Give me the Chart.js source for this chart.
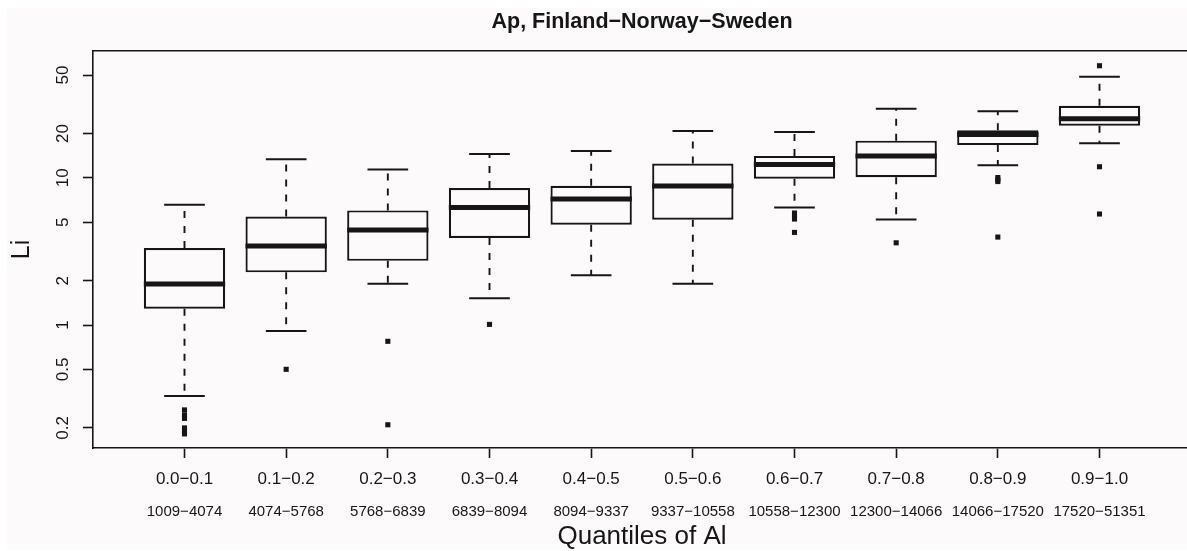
<!DOCTYPE html>
<html>
<head>
<meta charset="utf-8">
<script src="https://cdn.jsdelivr.net/npm/chart.js@4/dist/chart.umd.min.js"></script>
<style>
  html, body { margin: 0; padding: 0; background: #ffffff; overflow: hidden; }
  #frame { position: absolute; left: 0; top: 0; width: 1187px; height: 551px; overflow: hidden; }
  #paper { position: absolute; left: 7px; top: 8px; width: 1180px; height: 541px; background: #fcfafa; }
  #plot { position: absolute; left: 0; top: 0; }
</style>
</head>
<body>
<div id="frame">
  <div id="paper"></div>
  <canvas id="plot" width="1195" height="551"></canvas>
</div>
<script>
// Quantile classes of Al and the Al concentration range of each class
const quantileLabels = ['0.0−0.1', '0.1−0.2', '0.2−0.3', '0.3−0.4', '0.4−0.5',
                        '0.5−0.6', '0.6−0.7', '0.7−0.8', '0.8−0.9', '0.9−1.0'];
const rangeLabels = ['1009−4074', '4074−5768', '5768−6839', '6839−8094', '8094−9337',
                     '9337−10558', '10558−12300', '12300−14066', '14066−17520', '17520−51351'];

// Five-number summaries of Li per class
const lowerWhisker = [0.33, 0.91, 1.91, 1.52, 2.18, 1.91, 6.30, 5.22, 12.2, 17.2];
const lowerQuartile = [1.29, 2.28, 2.73, 3.90, 4.80, 5.19, 9.86, 10.1, 16.7, 22.6];
const medianValues = [1.90, 3.44, 4.42, 6.30, 7.18, 8.80, 12.35, 14.06, 19.7, 25.2];
const upperQuartile = [3.34, 5.47, 6.01, 8.53, 8.84, 12.5, 14.1, 17.9, 21.1, 30.9];
const upperWhisker = [6.57, 13.4, 11.4, 14.5, 15.2, 20.8, 20.5, 29.5, 28.4, 48.6];

// Outlying Li values per class
const outlierValues = [
  [0.265, 0.245, 0.232, 0.20, 0.19, 0.182],
  [0.50],
  [0.775, 0.21],
  [1.01],
  [],
  [],
  [5.77, 5.5, 5.25, 4.26],
  [3.62],
  [10.05, 9.7, 9.44, 3.96],
  [57.8, 11.9, 5.68]
];

// Log axis tick values
const yTickValues = [0.2, 0.5, 1, 2, 5, 10, 20, 50];

const ink = '#161616';
const fontFamily = '"Liberation Sans", Arial, Helvetica, sans-serif';
Chart.defaults.font.family = fontFamily;
Chart.defaults.color = ink;

const X_MIN = 0.1, X_MAX = 10.9;
const BOX_HALF = 0.4, CAP_HALF = 0.2;

// Build the point lists the line and bar controllers need
const boxData = quantileLabels.map((_, i) => ({ x: i + 1, y: [lowerQuartile[i], upperQuartile[i]] }));

const medianData = [];
const whiskerData = [];
const capData = [];
const outlierData = [];
quantileLabels.forEach((_, i) => {
  const c = i + 1;
  medianData.push({ x: c - BOX_HALF, y: medianValues[i] }, { x: c + BOX_HALF, y: medianValues[i] }, { x: c, y: null });
  whiskerData.push({ x: c, y: upperQuartile[i] }, { x: c, y: upperWhisker[i] }, { x: c, y: null });
  whiskerData.push({ x: c, y: lowerQuartile[i] }, { x: c, y: lowerWhisker[i] }, { x: c, y: null });
  capData.push({ x: c - CAP_HALF, y: upperWhisker[i] }, { x: c + CAP_HALF, y: upperWhisker[i] }, { x: c, y: null });
  capData.push({ x: c - CAP_HALF, y: lowerWhisker[i] }, { x: c + CAP_HALF, y: lowerWhisker[i] }, { x: c, y: null });
  outlierValues[i].forEach(v => outlierData.push({ x: c, y: v }));
});

const categoryTicks = scale => { scale.ticks = quantileLabels.map((_, i) => ({ value: i + 1 })); };

new Chart(document.getElementById('plot'), {
  type: 'bar',
  data: {
    datasets: [
      {
        type: 'line', data: medianData, borderColor: ink, borderWidth: 5,
        borderCapStyle: 'butt', pointRadius: 0, spanGaps: false, tension: 0, fill: false,
        xAxisID: 'x', yAxisID: 'y'
      },
      {
        type: 'bar', data: boxData, backgroundColor: 'rgba(252,250,250,1)', borderColor: ink,
        borderWidth: 2.2, borderSkipped: false, barPercentage: 0.8, categoryPercentage: 1,
        xAxisID: 'x', yAxisID: 'y'
      },
      {
        type: 'line', data: capData, borderColor: ink, borderWidth: 2,
        pointRadius: 0, spanGaps: false, tension: 0, fill: false,
        xAxisID: 'x', yAxisID: 'y'
      },
      {
        type: 'line', data: whiskerData, borderColor: ink, borderWidth: 1.9, borderDash: [7, 8],
        pointRadius: 0, spanGaps: false, tension: 0, fill: false,
        xAxisID: 'x', yAxisID: 'y'
      },
      {
        type: 'scatter', data: outlierData, pointStyle: 'rect', pointRadius: 3.6,
        backgroundColor: ink, borderWidth: 0, xAxisID: 'x', yAxisID: 'y'
      }
    ]
  },
  options: {
    responsive: false,
    animation: false,
    events: [],
    layout: { padding: { left: 0, right: 4, top: 0, bottom: 0 } },
    plugins: { legend: { display: false }, tooltip: { enabled: false }, title: { display: false } },
    scales: {
      x: {
        type: 'linear', position: 'bottom', weight: 0,
        min: X_MIN, max: X_MAX, bounds: 'data', offset: false,
        afterBuildTicks: categoryTicks,
        afterFit: s => { s.height = 46; },
        ticks: {
          autoSkip: false, minRotation: 0, maxRotation: 0, padding: 11,
          font: { size: 17 }, color: ink,
          callback: v => quantileLabels[v - 1] ?? ''
        },
        grid: { display: true, drawOnChartArea: false, drawTicks: true, tickLength: 10,
                tickWidth: 1.6, tickColor: ink, offset: false },
        border: { display: true, color: ink, width: 1.6 }
      },
      x2: {
        type: 'linear', position: 'bottom', weight: 1,
        min: X_MIN, max: X_MAX, bounds: 'data', offset: false,
        afterBuildTicks: categoryTicks,
        afterFit: s => { s.height = 57; },
        ticks: {
          autoSkip: false, minRotation: 0, maxRotation: 0, padding: 9,
          font: { size: 15 }, color: ink,
          callback: v => rangeLabels[v - 1] ?? ''
        },
        grid: { display: false, drawTicks: false },
        border: { display: false },
        title: { display: true, text: 'Quantiles of Al', color: ink,
                 font: { size: 26, lineHeight: 1 }, padding: { top: 0, bottom: 1 } }
      },
      xt: {
        type: 'linear', position: 'top',
        min: X_MIN, max: X_MAX, bounds: 'data', offset: false,
        afterFit: s => { s.height = 51; },
        ticks: { display: false },
        grid: { display: false, drawTicks: false },
        border: { display: true, color: ink, width: 1.6 },
        title: { display: true, text: 'Ap, Finland−Norway−Sweden', color: ink,
                 font: { size: 21.5, weight: 'bold', lineHeight: 1.2 }, padding: { top: 9, bottom: 0 } }
      },
      y: {
        type: 'logarithmic', position: 'left',
        min: 0.146, max: 72.8, bounds: 'data',
        afterBuildTicks: s => { s.ticks = yTickValues.map(v => ({ value: v })); },
        afterFit: s => { s.width = 93; },
        ticks: {
          autoSkip: false, minRotation: 90, maxRotation: 90, crossAlign: 'center', padding: 8,
          font: { size: 17 }, color: ink,
          callback: v => String(v)
        },
        grid: { display: true, drawOnChartArea: false, drawTicks: true, tickLength: 10,
                tickWidth: 1.6, tickColor: ink },
        border: { display: true, color: ink, width: 1.6 },
        title: { display: true, text: 'Li', color: ink,
                 font: { size: 25, lineHeight: 1 }, padding: { top: 10, bottom: 0 } }
      }
    }
  }
});
</script>
</body>
</html>
